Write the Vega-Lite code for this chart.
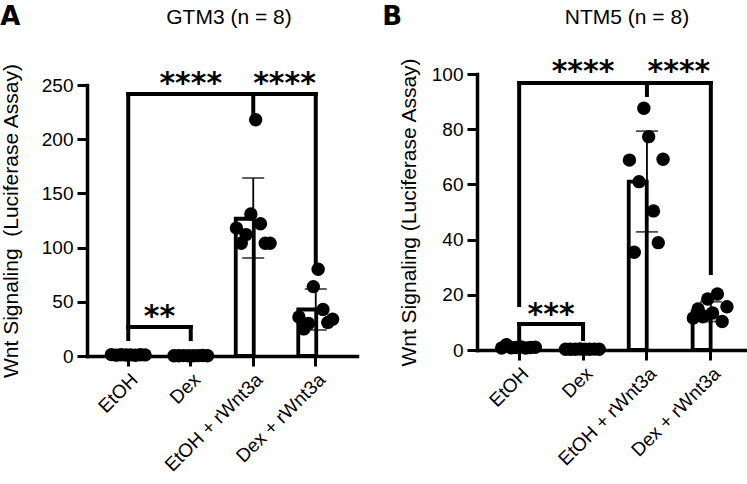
{
  "$schema": "https://vega.github.io/schema/vega-lite/v6.json",
  "background": "white",
  "padding": {"left": 0, "top": 4, "right": 0, "bottom": 0},
  "config": {
    "view": {"stroke": null},
    "font": "Liberation Sans",
    "title": {"color": "black", "font": "Liberation Sans", "fontSize": 21},
    "axis": {"domainColor": "black", "domainWidth": 3.5, "domainCap": "square", "tickColor": "black", "tickWidth": 3, "tickSize": 10, "labelColor": "black", "labelFontSize": 19, "labelFont": "Liberation Sans", "titleFont": "Liberation Sans", "titleFontSize": 21, "titleFontWeight": "normal", "titleColor": "black", "grid": false, "labelPadding": 4},
    "axisX": {"labelAngle": -45, "labelPadding": 4}
  },
  "datasets": {
    "points": [
      {"panel": "A", "group": "EtOH", "rep": 1, "v": 1.3}, {"panel": "A", "group": "EtOH", "rep": 2, "v": 0.8}, {"panel": "A", "group": "EtOH", "rep": 3, "v": 1.1}, {"panel": "A", "group": "EtOH", "rep": 4, "v": 0.9},
      {"panel": "A", "group": "EtOH", "rep": 5, "v": 1.0}, {"panel": "A", "group": "EtOH", "rep": 6, "v": 0.7}, {"panel": "A", "group": "EtOH", "rep": 7, "v": 1.2}, {"panel": "A", "group": "EtOH", "rep": 8, "v": 1.0},
      {"panel": "A", "group": "Dex", "rep": 1, "v": 0.3}, {"panel": "A", "group": "Dex", "rep": 2, "v": 0.25}, {"panel": "A", "group": "Dex", "rep": 3, "v": 0.35}, {"panel": "A", "group": "Dex", "rep": 4, "v": 0.3},
      {"panel": "A", "group": "Dex", "rep": 5, "v": 0.28}, {"panel": "A", "group": "Dex", "rep": 6, "v": 0.32}, {"panel": "A", "group": "Dex", "rep": 7, "v": 0.4}, {"panel": "A", "group": "Dex", "rep": 8, "v": 0.3},
      {"panel": "A", "group": "EtOH + rWnt3a", "rep": 5, "v": 218}, {"panel": "A", "group": "EtOH + rWnt3a", "rep": 4, "v": 131}, {"panel": "A", "group": "EtOH + rWnt3a", "rep": 6, "v": 122}, {"panel": "A", "group": "EtOH + rWnt3a", "rep": 1, "v": 118},
      {"panel": "A", "group": "EtOH + rWnt3a", "rep": 3, "v": 112}, {"panel": "A", "group": "EtOH + rWnt3a", "rep": 2, "v": 104}, {"panel": "A", "group": "EtOH + rWnt3a", "rep": 7, "v": 104}, {"panel": "A", "group": "EtOH + rWnt3a", "rep": 8, "v": 104},
      {"panel": "A", "group": "Dex + rWnt3a", "rep": 5, "v": 80}, {"panel": "A", "group": "Dex + rWnt3a", "rep": 4, "v": 64}, {"panel": "A", "group": "Dex + rWnt3a", "rep": 6, "v": 43}, {"panel": "A", "group": "Dex + rWnt3a", "rep": 1, "v": 36},
      {"panel": "A", "group": "Dex + rWnt3a", "rep": 8, "v": 34}, {"panel": "A", "group": "Dex + rWnt3a", "rep": 7, "v": 31}, {"panel": "A", "group": "Dex + rWnt3a", "rep": 2, "v": 25}, {"panel": "A", "group": "Dex + rWnt3a", "rep": 3, "v": 30},
      {"panel": "B", "group": "EtOH", "rep": 1, "v": 0.7}, {"panel": "B", "group": "EtOH", "rep": 2, "v": 1.9}, {"panel": "B", "group": "EtOH", "rep": 3, "v": 0.8}, {"panel": "B", "group": "EtOH", "rep": 4, "v": 0.9},
      {"panel": "B", "group": "EtOH", "rep": 5, "v": 1.1}, {"panel": "B", "group": "EtOH", "rep": 6, "v": 0.7}, {"panel": "B", "group": "EtOH", "rep": 7, "v": 0.9}, {"panel": "B", "group": "EtOH", "rep": 8, "v": 1.0},
      {"panel": "B", "group": "Dex", "rep": 1, "v": 0.3}, {"panel": "B", "group": "Dex", "rep": 2, "v": 0.25}, {"panel": "B", "group": "Dex", "rep": 3, "v": 0.3}, {"panel": "B", "group": "Dex", "rep": 4, "v": 0.35},
      {"panel": "B", "group": "Dex", "rep": 5, "v": 0.3}, {"panel": "B", "group": "Dex", "rep": 6, "v": 0.28}, {"panel": "B", "group": "Dex", "rep": 7, "v": 0.32}, {"panel": "B", "group": "Dex", "rep": 8, "v": 0.3},
      {"panel": "B", "group": "EtOH + rWnt3a", "rep": 4, "v": 87.6}, {"panel": "B", "group": "EtOH + rWnt3a", "rep": 5, "v": 77.3}, {"panel": "B", "group": "EtOH + rWnt3a", "rep": 1, "v": 68.8}, {"panel": "B", "group": "EtOH + rWnt3a", "rep": 8, "v": 69.1},
      {"panel": "B", "group": "EtOH + rWnt3a", "rep": 3, "v": 61}, {"panel": "B", "group": "EtOH + rWnt3a", "rep": 6, "v": 50.4}, {"panel": "B", "group": "EtOH + rWnt3a", "rep": 7, "v": 38.9}, {"panel": "B", "group": "EtOH + rWnt3a", "rep": 2, "v": 35.4},
      {"panel": "B", "group": "Dex + rWnt3a", "rep": 6, "v": 20.3}, {"panel": "B", "group": "Dex + rWnt3a", "rep": 4, "v": 18.5}, {"panel": "B", "group": "Dex + rWnt3a", "rep": 8, "v": 15.7}, {"panel": "B", "group": "Dex + rWnt3a", "rep": 2, "v": 14.9},
      {"panel": "B", "group": "Dex + rWnt3a", "rep": 5, "v": 13.4}, {"panel": "B", "group": "Dex + rWnt3a", "rep": 1, "v": 11.6}, {"panel": "B", "group": "Dex + rWnt3a", "rep": 7, "v": 10.3}, {"panel": "B", "group": "Dex + rWnt3a", "rep": 3, "v": 12}
    ],
    "bars": [
      {"panel": "A", "group": "EtOH", "v": 1.0, "lo": 0.8, "hi": 1.2},
      {"panel": "A", "group": "Dex", "v": 0.31, "lo": 0.26, "hi": 0.36},
      {"panel": "A", "group": "EtOH + rWnt3a", "v": 126.6, "lo": 90.4, "hi": 164.2},
      {"panel": "A", "group": "Dex + rWnt3a", "v": 42.9, "lo": 24, "hi": 61.8},
      {"panel": "B", "group": "EtOH", "v": 1.0, "lo": 0.6, "hi": 1.4},
      {"panel": "B", "group": "Dex", "v": 0.3, "lo": 0.27, "hi": 0.33},
      {"panel": "B", "group": "EtOH + rWnt3a", "v": 61.0, "lo": 42.8, "hi": 79.3},
      {"panel": "B", "group": "Dex + rWnt3a", "v": 13.9, "lo": 10.3, "hi": 17.5}
    ],
    "brackets": [
      {"panel": "A", "group": "EtOH", "group2": "Dex + rWnt3a", "v": 241.7, "v2": 241.7},
      {"panel": "A", "group": "EtOH", "group2": "EtOH", "v": 26.8, "v2": 241.7},
      {"panel": "A", "group": "EtOH + rWnt3a", "group2": "EtOH + rWnt3a", "v": 222.3, "v2": 241.7},
      {"panel": "A", "group": "Dex + rWnt3a", "group2": "Dex + rWnt3a", "v": 85.8, "v2": 241.7},
      {"panel": "A", "group": "EtOH", "group2": "Dex", "v": 26.8, "v2": 26.8},
      {"panel": "A", "group": "EtOH", "group2": "EtOH", "v": 15.7, "v2": 26.8},
      {"panel": "A", "group": "Dex", "group2": "Dex", "v": 15.7, "v2": 26.8},
      {"panel": "B", "group": "EtOH", "group2": "Dex + rWnt3a", "v": 96.7, "v2": 96.7},
      {"panel": "B", "group": "EtOH", "group2": "EtOH", "v": 16.3, "v2": 96.7},
      {"panel": "B", "group": "EtOH + rWnt3a", "group2": "EtOH + rWnt3a", "v": 92.4, "v2": 96.7},
      {"panel": "B", "group": "Dex + rWnt3a", "group2": "Dex + rWnt3a", "v": 27.9, "v2": 96.7},
      {"panel": "B", "group": "EtOH", "group2": "Dex", "v": 9.4, "v2": 9.4},
      {"panel": "B", "group": "EtOH", "group2": "EtOH", "v": 4, "v2": 9.4},
      {"panel": "B", "group": "Dex", "group2": "Dex", "v": 4, "v2": 9.4}
    ],
    "starsOnGroup": [
      {"panel": "A", "group": "Dex", "v": 243, "label": "****"},
      {"panel": "B", "group": "Dex", "v": 97.6, "label": "****"}
    ],
    "starsBetween": [
      {"panel": "A", "group": "EtOH + rWnt3a", "v": 243, "label": "****"},
      {"panel": "A", "group": "EtOH", "v": 28.1, "label": "**"},
      {"panel": "B", "group": "EtOH + rWnt3a", "v": 97.6, "label": "****"},
      {"panel": "B", "group": "EtOH", "v": 9.6, "label": "***"}
    ]
  },
  "align": "each",
  "spacing": 25,
  "hconcat": [
    {
      "title": {"text": "A", "anchor": "start", "frame": "bounds", "font": "DejaVu Sans", "fontSize": 26, "fontWeight": "bold", "baseline": "alphabetic", "offset": -44},
      "bounds": "flush",
      "spacing": 0,
      "vconcat": [
        {
          "width": 270,
          "height": 35,
          "title": {"text": "GTM3 (n = 8)", "anchor": "middle", "frame": "group", "fontSize": 21, "fontWeight": "normal", "baseline": "alphabetic", "offset": 5, "dx": 7},
          "data": {"values": [{}]},
          "mark": {"type": "text", "text": ""}
        },
        {
          "width": 270,
          "height": 271,
          "encoding": {
            "x": {"field": "group", "type": "nominal", "title": null, "scale": {"domain": ["EtOH", "Dex", "EtOH + rWnt3a", "Dex + rWnt3a"], "paddingInner": 0, "paddingOuter": 0.16}},
            "y": {"field": "v", "type": "quantitative", "title": "Wnt Signaling\u00a0 (Luciferase Assay)", "scale": {"domain": [0, 250], "nice": false}, "axis": {"values": [0, 50, 100, 150, 200, 250], "titlePadding": 20}}
          },
          "layer": [
            {
              "data": {"name": "bars"},
              "transform": [{"filter": "datum.panel == 'A'"}],
              "mark": {"type": "bar", "fill": "white", "stroke": "black", "strokeWidth": 3.8, "width": {"band": 0.56}}
            },
            {
              "data": {"name": "bars"},
              "transform": [{"filter": "datum.panel == 'A'"}],
              "mark": {"type": "errorbar", "ticks": true, "size": 22, "thickness": 1.8, "color": "black"},
              "encoding": {"y": {"field": "lo", "type": "quantitative", "title": "Wnt Signaling\u00a0 (Luciferase Assay)"}, "y2": {"field": "hi"}}
            },
            {
              "data": {"name": "points"},
              "transform": [{"filter": "datum.panel == 'A'"}],
              "mark": {"type": "circle", "size": 180, "color": "black", "opacity": 1},
              "encoding": {
                "xOffset": {"field": "rep", "type": "nominal", "scale": {"domain": [-2, -1, 0, 1, 2, 3, 4, 5, 6, 7, 8, 9, 10, 11], "paddingInner": 0, "paddingOuter": 0}}
              }
            },
            {
              "data": {"name": "brackets"},
              "transform": [{"filter": "datum.panel == 'A'"}],
              "mark": {"type": "rule", "strokeWidth": 4, "strokeCap": "square", "color": "black"},
              "encoding": {"x2": {"field": "group2"}, "y2": {"field": "v2"}}
            },
            {
              "data": {"name": "starsOnGroup"},
              "transform": [{"filter": "datum.panel == 'A'"}],
              "mark": {"type": "text", "fontSize": 30, "fontWeight": "bold", "font": "DejaVu Sans", "baseline": "alphabetic", "align": "center", "color": "black"},
              "encoding": {"x": {"field": "group", "type": "nominal", "bandPosition": 0.5}, "text": {"field": "label"}}
            },
            {
              "data": {"name": "starsBetween"},
              "transform": [{"filter": "datum.panel == 'A'"}],
              "mark": {"type": "text", "fontSize": 30, "fontWeight": "bold", "font": "DejaVu Sans", "baseline": "alphabetic", "align": "center", "color": "black"},
              "encoding": {"x": {"field": "group", "type": "nominal", "bandPosition": 1}, "text": {"field": "label"}}
            }
          ]
        }
      ]
    },
    {
      "title": {"text": "B", "anchor": "start", "frame": "bounds", "font": "DejaVu Sans", "fontSize": 26, "fontWeight": "bold", "baseline": "alphabetic", "offset": -44, "dx": -16},
      "bounds": "flush",
      "spacing": 0,
      "vconcat": [
        {
          "width": 276,
          "height": 24,
          "title": {"text": "NTM5 (n = 8)", "anchor": "middle", "frame": "group", "fontSize": 21, "fontWeight": "normal", "baseline": "alphabetic", "offset": 5, "dx": 12},
          "data": {"values": [{}]},
          "mark": {"type": "text", "text": ""}
        },
        {
          "width": 276,
          "height": 276,
          "encoding": {
            "x": {"field": "group", "type": "nominal", "title": null, "scale": {"domain": ["EtOH", "Dex", "EtOH + rWnt3a", "Dex + rWnt3a"], "paddingInner": 0, "paddingOuter": 0.16}},
            "y": {"field": "v", "type": "quantitative", "title": "Wnt Signaling (Luciferase Assay)", "scale": {"domain": [0, 100], "nice": false}, "axis": {"values": [0, 20, 40, 60, 80, 100], "titlePadding": 12}}
          },
          "layer": [
            {
              "data": {"name": "bars"},
              "transform": [{"filter": "datum.panel == 'B'"}],
              "mark": {"type": "bar", "fill": "white", "stroke": "black", "strokeWidth": 3.8, "width": {"band": 0.57}}
            },
            {
              "data": {"name": "bars"},
              "transform": [{"filter": "datum.panel == 'B'"}],
              "mark": {"type": "errorbar", "ticks": true, "size": 22, "thickness": 1.8, "color": "black"},
              "encoding": {"y": {"field": "lo", "type": "quantitative", "title": "Wnt Signaling (Luciferase Assay)"}, "y2": {"field": "hi"}}
            },
            {
              "data": {"name": "points"},
              "transform": [{"filter": "datum.panel == 'B'"}],
              "mark": {"type": "circle", "size": 180, "color": "black", "opacity": 1},
              "encoding": {
                "xOffset": {"field": "rep", "type": "nominal", "scale": {"domain": [-2, -1, 0, 1, 2, 3, 4, 5, 6, 7, 8, 9, 10, 11], "paddingInner": 0, "paddingOuter": 0}}
              }
            },
            {
              "data": {"name": "brackets"},
              "transform": [{"filter": "datum.panel == 'B'"}],
              "mark": {"type": "rule", "strokeWidth": 4, "strokeCap": "square", "color": "black"},
              "encoding": {"x2": {"field": "group2"}, "y2": {"field": "v2"}}
            },
            {
              "data": {"name": "starsOnGroup"},
              "transform": [{"filter": "datum.panel == 'B'"}],
              "mark": {"type": "text", "fontSize": 30, "fontWeight": "bold", "font": "DejaVu Sans", "baseline": "alphabetic", "align": "center", "color": "black"},
              "encoding": {"x": {"field": "group", "type": "nominal", "bandPosition": 0.5}, "text": {"field": "label"}}
            },
            {
              "data": {"name": "starsBetween"},
              "transform": [{"filter": "datum.panel == 'B'"}],
              "mark": {"type": "text", "fontSize": 30, "fontWeight": "bold", "font": "DejaVu Sans", "baseline": "alphabetic", "align": "center", "color": "black"},
              "encoding": {"x": {"field": "group", "type": "nominal", "bandPosition": 1}, "text": {"field": "label"}}
            }
          ]
        }
      ]
    }
  ]
}
